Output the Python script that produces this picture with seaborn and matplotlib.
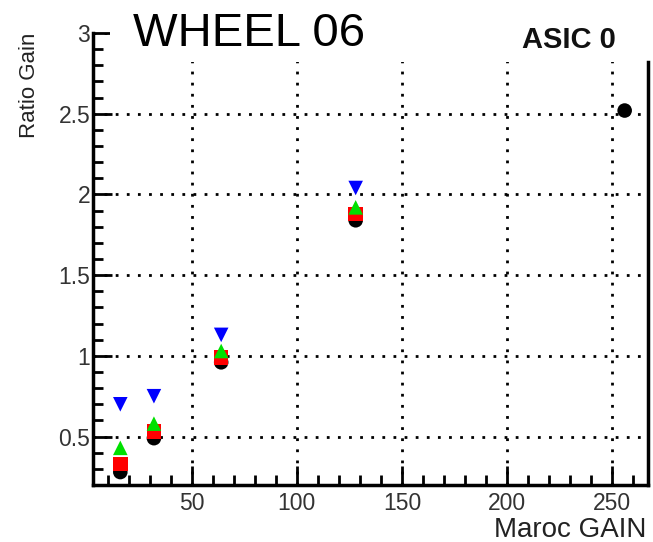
import matplotlib
matplotlib.use("Agg")
import matplotlib.pyplot as plt
from matplotlib.patches import Rectangle
from matplotlib.ticker import MultipleLocator, FormatStrFormatter
import seaborn as sns
import pandas as pd
import numpy as np

maroc_gain = [16, 32, 64, 128, 256]
ratio_black = [0.28, 0.49, 0.96, 1.84, 2.52]
ratio_red = [0.33, 0.53, 0.99, 1.88, np.nan]
ratio_green = [0.43, 0.58, 1.03, 1.92, np.nan]
ratio_blue = [0.70, 0.75, 1.13, 2.04, np.nan]

series_names = ["black", "red", "green", "blue"]
series_values = [ratio_black, ratio_red, ratio_green, ratio_blue]
series_colors = ["black", "#ff0000", "#00e000", "#0000ff"]
series_markers = ["o", "s", "^", "v"]

rows = []
for name, vals in zip(series_names, series_values):
    for g, v in zip(maroc_gain, vals):
        rows.append({"gain": g, "ratio": v, "series": name})
df = pd.DataFrame(rows).dropna()

sns.set_theme(style="white")
plt.rcParams["font.family"] = ["Liberation Sans", "DejaVu Sans"]

fig = plt.figure(figsize=(6.53, 5.42), dpi=100)
ax = fig.add_axes([0.1424, 0.1052, 0.8496, 0.8338])

sns.scatterplot(
    data=df, x="gain", y="ratio", hue="series", style="series",
    hue_order=series_names, style_order=series_names,
    palette=dict(zip(series_names, series_colors)),
    markers=dict(zip(series_names, series_markers)),
    s=110, edgecolor="none", legend=False, ax=ax, zorder=3,
)

ax.set_xlim(3, 267)
ax.set_ylim(0.2, 3.0)

ax.xaxis.set_major_locator(MultipleLocator(50))
ax.xaxis.set_minor_locator(MultipleLocator(10))
ax.yaxis.set_major_locator(MultipleLocator(0.5))
ax.yaxis.set_minor_locator(MultipleLocator(0.1))
ax.yaxis.set_major_formatter(FormatStrFormatter("%g"))

# seaborn's white style switches ticks off; ROOT-like inward ticks
ax.tick_params(which="both", bottom=True, left=True, top=False, right=False)
ax.tick_params(which="major", direction="in", length=14, width=2,
               labelsize=16.5, color="black", labelcolor="#333333")
ax.tick_params(which="minor", direction="in", length=7, width=2, color="black")
ax.tick_params(axis="x", pad=5)
ax.tick_params(axis="y", pad=2)

ax.grid(True, which="major", linestyle=(0, (1, 3)), color="black", linewidth=2)

for side in ["left", "bottom", "right"]:
    ax.spines[side].set_color("black")
    ax.spines[side].set_linewidth(2.5)
ax.spines["top"].set_visible(False)
ax.spines["right"].set_bounds(0.2, 2.82)

# white title box hiding the top strip of the frame, as in the ROOT canvas
fig.patches.append(Rectangle((0.1685, 0.886), 0.82, 0.12, transform=fig.transFigure,
                             facecolor="white", edgecolor="none", zorder=5))

ax.set_xlabel("Maroc GAIN", fontsize=20, color="#222222")
ax.xaxis.set_label_coords(0.998, -0.07)
ax.xaxis.label.set_horizontalalignment("right")
ax.set_ylabel("Ratio Gain", fontsize=16, color="#222222")
ax.yaxis.set_label_coords(-0.095, 1.0)
ax.yaxis.label.set_verticalalignment("bottom")
ax.yaxis.label.set_horizontalalignment("right")

fig.text(0.203, 0.938, "WHEEL 06", fontsize=34, va="center", ha="left", color="black",
         zorder=6)
fig.text(0.80, 0.926, "ASIC 0", fontsize=21, fontweight="bold", va="center", ha="left",
         color="#111111", zorder=6)

fig.savefig("out.png", dpi=100, facecolor="white")
